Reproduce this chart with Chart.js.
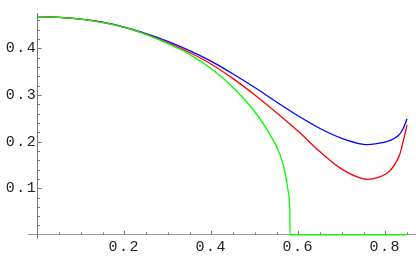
<!DOCTYPE html>
<html>
<head>
<meta charset="utf-8">
<script src="https://cdn.jsdelivr.net/npm/chart.js@4/dist/chart.umd.min.js"></script>
<style>
html,body{margin:0;padding:0;background:#fff;}
#wrap{width:416px;height:257px;position:relative;}
</style>
</head>
<body>
<div id="wrap"><canvas id="c" width="416" height="257"></canvas></div>
<script>
// ---- data ----
const xCurve = [0, 0.05, 0.1, 0.15, 0.2, 0.25, 0.3, 0.35, 0.4, 0.45, 0.5, 0.55, 0.6, 0.65, 0.7, 0.75, 0.78, 0.81, 0.83, 0.84, 0.85];
const blueY  = [0.468, 0.4665, 0.4625, 0.456, 0.4455, 0.4315, 0.415, 0.395, 0.372, 0.345, 0.316, 0.285, 0.255, 0.228, 0.207, 0.194, 0.1955, 0.202, 0.213, 0.226, 0.249];
const redY   = [0.468, 0.4665, 0.4625, 0.4555, 0.445, 0.430, 0.412, 0.391, 0.366, 0.335, 0.300, 0.262, 0.222, 0.178, 0.141, 0.120, 0.122, 0.137, 0.165, 0.196, 0.236];
const greenX = [0, 0.05, 0.1, 0.15, 0.2, 0.25, 0.3, 0.35, 0.4, 0.45, 0.5, 0.535, 0.558, 0.57, 0.577, 0.5805, 0.581, 0.85];
const greenY = [0.468, 0.4665, 0.4625, 0.455, 0.445, 0.430, 0.410, 0.387, 0.356, 0.316, 0.264, 0.215, 0.172, 0.132, 0.092, 0.05, 0, 0];
const xTickValues = [0.2, 0.4, 0.6, 0.8];
const yTickValues = [0.1, 0.2, 0.3, 0.4];
const xMinorTicks = [0.05, 0.1, 0.15, 0.25, 0.3, 0.35, 0.45, 0.5, 0.55, 0.65, 0.7, 0.75, 0.85];
const yMinorTicks = [0.02, 0.04, 0.06, 0.08, 0.12, 0.14, 0.16, 0.18, 0.22, 0.24, 0.26, 0.28, 0.32, 0.34, 0.36, 0.38, 0.42, 0.44, 0.46];

const toPts = (xs, ys) => xs.map((x, i) => ({x: x, y: ys[i]}));

const tickPlugin = {
  id: 'innerTicks',
  beforeDraw(chart) {
    chart.ctx.letterSpacing = '1.5px';
  },
  beforeDatasetsDraw(chart) {
    const ctx = chart.ctx;
    const xs = chart.scales.x, ys = chart.scales.y;
    const x0 = Math.round(xs.getPixelForValue(0)) + 0.5;
    const y0 = ys.getPixelForValue(0);
    ctx.save();
    ctx.strokeStyle = '#777';
    ctx.lineWidth = 1;
    ctx.beginPath();
    xTickValues.forEach(v => { const p = Math.round(xs.getPixelForValue(v)) + 0.5; ctx.moveTo(p, y0); ctx.lineTo(p, y0 - 4); });
    xMinorTicks.forEach(v => { const p = Math.round(xs.getPixelForValue(v)) + 0.5; ctx.moveTo(p, y0); ctx.lineTo(p, y0 - 2.5); });
    yTickValues.forEach(v => { const p = Math.round(ys.getPixelForValue(v)) + 0.5; ctx.moveTo(x0, p); ctx.lineTo(x0 + 4, p); });
    yMinorTicks.forEach(v => { const p = Math.round(ys.getPixelForValue(v)) + 0.5; ctx.moveTo(x0, p); ctx.lineTo(x0 + 2.5, p); });
    ctx.stroke();
    ctx.restore();
  }
};

const lineDs = (label, data, color, mono) => ({
  label: label, data: data, borderColor: color, backgroundColor: color,
  borderWidth: 1.3, pointRadius: 0, showLine: true, fill: false,
  tension: mono ? 0 : 0.35,
  cubicInterpolationMode: mono ? 'monotone' : 'default'
});

new Chart(document.getElementById('c'), {
  type: 'scatter',
  data: {
    datasets: [
      lineDs('green', toPts(greenX, greenY), '#00ff00', true),
      lineDs('red', toPts(xCurve, redY), '#ff0000', false),
      lineDs('blue', toPts(xCurve, blueY), '#0000ff', false)
    ]
  },
  options: {
    responsive: false,
    animation: false,
    events: [],
    layout: { padding: { left: 28, top: 3, right: 0, bottom: 20 } },
    plugins: { legend: { display: false }, tooltip: { enabled: false } },
    scales: {
      x: {
        type: 'linear', min: -0.0214, max: 0.8706,
        position: { y: 0 },
        grid: { display: false, drawTicks: false },
        border: { display: true, color: '#999', width: 1 },
        afterBuildTicks: s => { s.ticks = xTickValues.map(v => ({value: v})); },
        ticks: { padding: 3, color: '#222', font: { family: 'Liberation Mono', size: 15 }, maxRotation: 0, autoSkip: false,
                 callback: v => v.toFixed(1) }
      },
      y: {
        type: 'linear', min: -0.0047, max: 0.4758,
        position: { x: 0 },
        grid: { display: false, drawTicks: false },
        border: { display: true, color: '#777', width: 1 },
        afterBuildTicks: s => { s.ticks = yTickValues.map(v => ({value: v})); },
        ticks: { padding: 4, color: '#222', font: { family: 'Liberation Mono', size: 15 }, autoSkip: false,
                 callback: v => v.toFixed(1) }
      }
    }
  },
  plugins: [tickPlugin]
});
</script>
</body>
</html>
